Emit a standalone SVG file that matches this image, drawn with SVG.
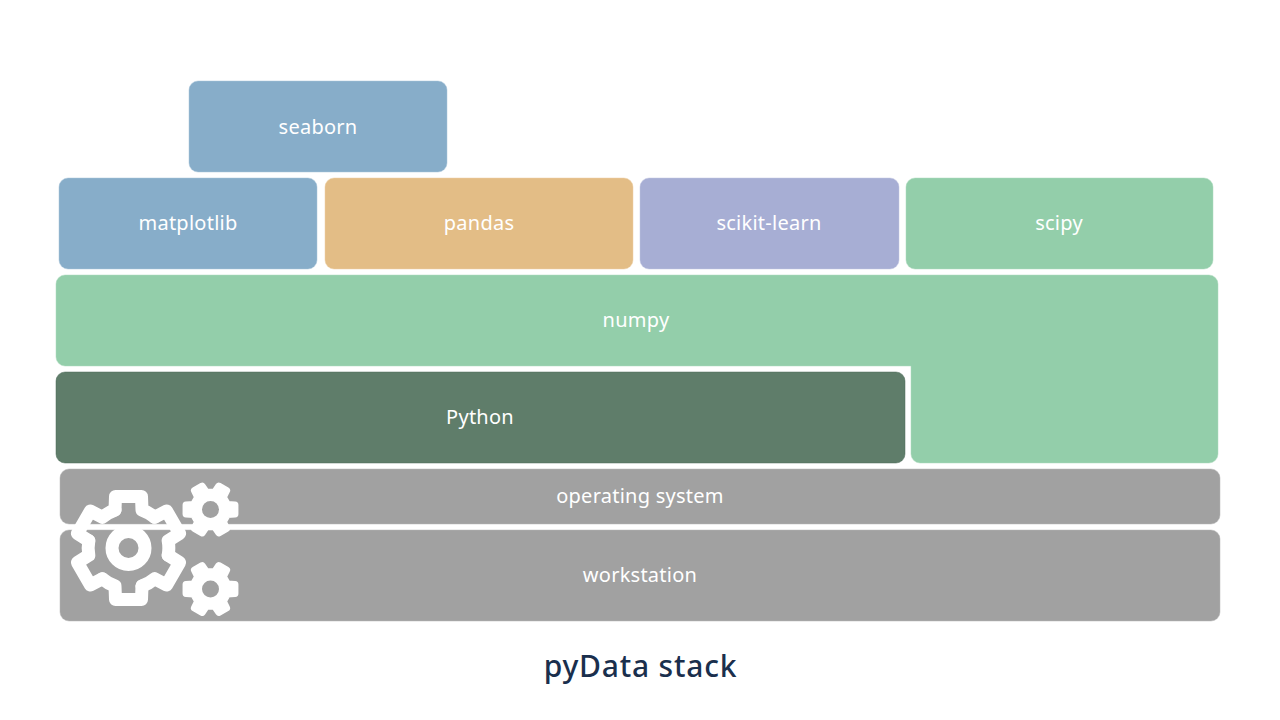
<svg xmlns="http://www.w3.org/2000/svg" width="1280" height="720" viewBox="0 0 1280 720">
<style>
.box{stroke-width:.5}
.lbl{font-family:"Noto Sans","Open Sans","Liberation Sans",sans-serif;font-size:20px;letter-spacing:.25px;fill:#fff;text-anchor:middle}
.blue{fill:#87adc9;stroke:#a9c4d8}
.orange{fill:#e3bd86;stroke:#eccfa5}
.purple{fill:#a7aed4;stroke:#c0c5e0}
.green{fill:#93ceaa;stroke:#aedabf}
.dark{fill:#5f7d6a;stroke:#4d6b58}
.gray{fill:#a1a1a1;stroke:#b5b5b5}
.seg{fill:none;stroke:#fff;stroke-width:13;stroke-linejoin:round;stroke-linecap:round}
.sm{fill:#fff;stroke:#fff;stroke-width:7;stroke-linejoin:round}
</style>
<defs>
<path id="seg" class="seg" d="M-13.5,-38 L-13,-51.5 H13 L13.5,-38 A40.3,40.3 0 0 1 26.16,-30.69"/>
<path id="small" class="sm" d="M-5,-17 L-4.5,-24.5 H4.5 L5,-17 L12.22,-12.83 L18.9,-16.15 L23.4,-8.35 L17.22,-4.17 V4.17 L23.4,8.35 L18.9,16.15 L12.22,12.83 L5,17 L4.5,24.5 H-4.5 L-5,17 L-12.22,12.83 L-18.9,16.15 L-23.4,8.35 L-17.22,4.17 V-4.17 L-23.4,-8.35 L-18.9,-16.15 L-12.22,-12.83 Z"/>
</defs>
<g id="seaborn"><rect class="box blue" x="189" y="81" width="258" height="91" rx="9"/><text class="lbl" x="318" y="133.5">seaborn</text></g>
<g id="matplotlib"><rect class="box blue" x="59" y="178" width="258" height="91" rx="9"/><text class="lbl" x="188" y="230">matplotlib</text></g>
<g id="pandas"><rect class="box orange" x="325" y="178" width="308" height="91" rx="9"/><text class="lbl" x="479" y="230">pandas</text></g>
<g id="scikit-learn"><rect class="box purple" x="640" y="178" width="259" height="91" rx="9"/><text class="lbl" x="769" y="230">scikit-learn</text></g>
<g id="scipy"><rect class="box green" x="906" y="178" width="307" height="91" rx="9"/><text class="lbl" x="1059" y="230">scipy</text></g>
<g id="numpy"><path class="box green" d="M65,275 H1209 a9,9 0 0 1 9,9 V454 a9,9 0 0 1 -9,9 H920 a9,9 0 0 1 -9,-9 V366 H65 a9,9 0 0 1 -9,-9 V284 a9,9 0 0 1 9,-9 Z"/><text class="lbl" x="636" y="327">numpy</text></g>
<g id="python"><rect class="box dark" x="56" y="372" width="849" height="91" rx="9"/><text class="lbl" x="480" y="424">Python</text></g>
<g id="operating-system"><rect class="box gray" x="60" y="469" width="1160" height="55" rx="9"/><text class="lbl" x="640" y="503">operating system</text></g>
<g id="workstation"><rect class="box gray" x="60" y="530" width="1160" height="91" rx="9"/><text class="lbl" x="640" y="582">workstation</text></g>
<g id="gears">
<g transform="translate(128.5,548)">
<use href="#seg"/><use href="#seg" transform="rotate(60)"/><use href="#seg" transform="rotate(120)"/><use href="#seg" transform="rotate(180)"/><use href="#seg" transform="rotate(240)"/><use href="#seg" transform="rotate(300)"/>
<circle r="16.5" fill="none" stroke="#fff" stroke-width="13"/>
</g>
<g transform="translate(210.5,509.5) rotate(30)"><use href="#small"/></g>
<circle cx="210.5" cy="509.5" r="8.5" fill="#a1a1a1"/>
<g transform="translate(210.5,589) rotate(30)"><use href="#small"/></g>
<circle cx="210.5" cy="589" r="8.5" fill="#a1a1a1"/>
</g>
<text id="title" x="640.500" y="677" font-family="Noto Sans,Open Sans,sans-serif" font-size="30" font-weight="500" letter-spacing=".8" fill="#1a2f4d" text-anchor="middle">pyData stack</text>
</svg>
